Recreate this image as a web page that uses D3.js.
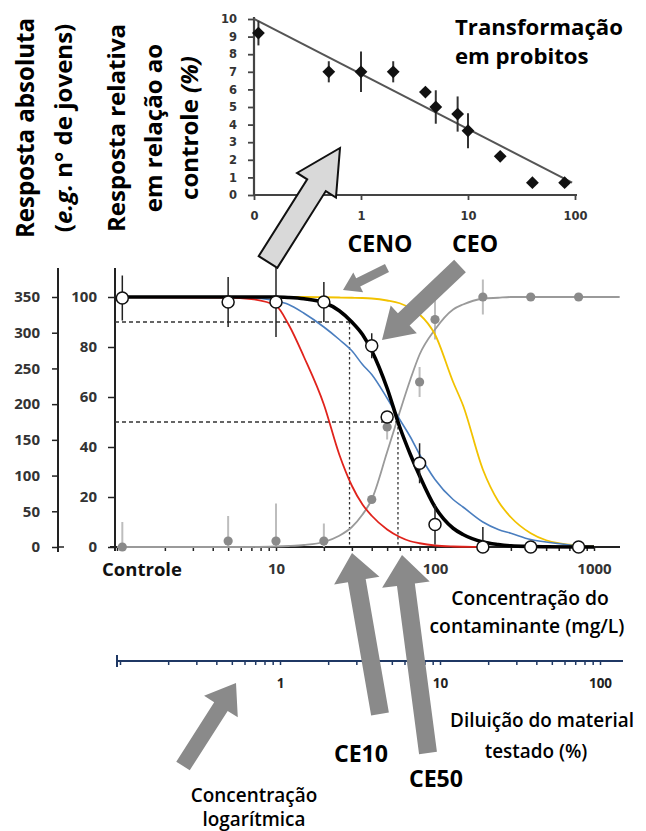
<!DOCTYPE html>
<html>
<head>
<meta charset="utf-8">
<script src="https://cdn.jsdelivr.net/npm/d3@7"></script>
<style>
  body { margin: 0; background: #fff; }
  svg { display: block; font-family: "Open Sans", sans-serif; }
</style>
</head>
<body>
<div id="chart"></div>
<script>
// ---- data ----
// main dose-response points (control plotted just right of the axis origin)
var concentrations = [1.08, 5, 10, 20, 40, 50, 80, 100, 200, 400, 800];
var responsePct    = [99.6, 98, 98, 98, 80.5, 52, 33.5, 9, 0, 0, 0];
var responseErr    = [9, 10, 14, 8, 5, 2, 8, 8, 8, 0, 0];
var inversePct     = [0, 2.4, 2.4, 2.4, 19, 48, 66, 91, 100, 100, 100];
var inverseErr     = [10, 10, 15, 7, 0, 5, 6, 8, 7, 0, 0];

// fitted curves, read at these concentrations
var curveConc   = [1, 5, 7, 10, 12, 15, 20, 25, 30, 35, 40, 50, 60, 70, 80, 100, 130, 150, 200, 250, 300, 400, 500, 800, 1000, 1450];
var blackCurve  = [100, 100, 100, 100, 99.8, 99.3, 97.8, 94.5, 90, 85, 78.5, 63.5, 48, 37, 28.5, 16, 7.5, 5, 2, 1, 0.5, 0.2, 0.1, 0, 0, null];
var blueCurve   = [100, 100, 99.7, 98.5, 97, 93.5, 88, 83, 78.5, 73, 69, 59.5, 51, 44, 37, 27, 19, 16, 10, 7, 5.5, 3, 2, 0.5, 0.2, null];
var redCurve    = [100, 99.8, 99.2, 96.5, 89, 76, 57, 37, 24.5, 17, 12.5, 7, 4, 2.3, 1.5, 0.6, 0.2, 0.1, 0, null, null, null, null, null, null, null];
var yellowCurve = [100, 100, 100, 100, 100, 100, 99.9, 99.8, 99.7, 99.6, 99.4, 98.6, 97.5, 95.5, 93, 85, 66, 56.7, 31, 18.3, 11.9, 5.5, 2.7, 0.6, 0.2, null];
var grayCurve   = [0, 0, 0, 0.2, 0.4, 0.8, 2, 4.5, 8, 13, 19, 38, 54, 67, 77, 87, 95, 97, 99.3, 99.7, 100, 100, 100, 100, 100, 100];

var ecConc   = [29, 58.5];   // CE10, CE50
var ecLevels = [90, 50];

var pctTicks    = [0, 20, 40, 60, 80, 100];
var absTicks    = [0, 50, 100, 150, 200, 250, 300, 350];
var concTicks   = [10, 100, 1000];
var dilutTicks  = [1, 10, 100];

// probit inset
var probitConc     = [0.11, 0.5, 1, 2, 4, 5, 8, 10, 20, 40, 80];
var probitValue    = [9.2, 7.0, 7.0, 7.0, 5.85, 5.0, 4.6, 3.65, 2.2, 0.7, 0.7];
var probitErr      = [0.7, 0.6, 1.15, 0.6, 0, 0.95, 1.0, 1.0, 0, 0, 0];
var probitFitConc  = [0.1, 94];
var probitFitValue = [10, 0.7];
var probitYTicks   = [0, 1, 2, 3, 4, 5, 6, 7, 8, 9, 10];
var probitXTicks   = [0.1, 1, 10, 100];
var probitXLabels  = ["0", "1", "10", "100"];

var width = 646, height = 831;
var svg = d3.select("#chart").append("svg")
    .attr("width", width)
    .attr("height", height);

function fitWidth(sel, target) {
    var fs = parseFloat(sel.attr("font-size"));
    var w = sel.node().getComputedTextLength();
    sel.attr("font-size", (fs * target / w).toFixed(2));
    return fs * target / w;
}

function arrowPath(x0, y0, x1, y1, sw, hw, hl) {
    var dx = x1 - x0, dy = y1 - y0, L = Math.hypot(dx, dy);
    var ux = dx / L, uy = dy / L, px = -uy, py = ux;
    var bx = x1 - ux * hl, by = y1 - uy * hl;
    var pts = [[x0 + px * sw, y0 + py * sw], [bx + px * sw, by + py * sw], [bx + px * hw, by + py * hw],
               [x1, y1], [bx - px * hw, by - py * hw], [bx - px * sw, by - py * sw], [x0 - px * sw, y0 - py * sw]];
    return d3.line()(pts) + "Z";
}

// ================= probit inset =================
var px = d3.scaleLog().domain([0.1, 100]).range([254, 575]);
var py = d3.scaleLinear().domain([0, 10]).range([195, 19]);
var inset = svg.append("g");

var iy = inset.append("g").attr("transform", "translate(254,0)")
    .call(d3.axisLeft(py).tickValues(probitYTicks).tickSize(6).tickPadding(11));
var ix = inset.append("g").attr("transform", "translate(0,195)")
    .call(d3.axisBottom(px).tickValues(probitXTicks).tickSize(5).tickPadding(12)
        .tickFormat(function(d, i) { return probitXLabels[i]; }));
[iy, ix].forEach(function(g) {
    g.select(".domain").remove();
    g.selectAll("line").attr("stroke", "#444").attr("stroke-width", 1.8);
    g.selectAll("text").attr("font-family", "DejaVu Sans").attr("font-weight", "bold")
        .attr("font-size", 11.5).attr("fill", "#333");
});
inset.append("line").attr("x1", 254).attr("x2", 254).attr("y1", 17).attr("y2", 196)
    .attr("stroke", "#444").attr("stroke-width", 2.2);
inset.append("line").attr("x1", 253).attr("x2", 577).attr("y1", 195).attr("y2", 195)
    .attr("stroke", "#444").attr("stroke-width", 2.2);

inset.append("path")
    .datum(probitFitConc.map(function(c, i) { return [c, probitFitValue[i]]; }))
    .attr("d", d3.line().x(function(d) { return px(d[0]); }).y(function(d) { return py(d[1]); }))
    .attr("stroke", "#555").attr("stroke-width", 2).attr("fill", "none");

var probitPts = probitConc.map(function(c, i) { return {c: c, v: probitValue[i], e: probitErr[i]}; });
inset.selectAll(".perr").data(probitPts.filter(function(d) { return d.e > 0; })).join("line")
    .attr("x1", function(d) { return px(d.c); }).attr("x2", function(d) { return px(d.c); })
    .attr("y1", function(d) { return py(d.v + d.e); }).attr("y2", function(d) { return py(d.v - d.e); })
    .attr("stroke", "#333").attr("stroke-width", 2);
inset.selectAll(".pdot").data(probitPts).join("path")
    .attr("d", d3.symbol(d3.symbolSquare, 82))
    .attr("transform", function(d) { return "translate(" + px(d.c) + "," + py(d.v) + ") rotate(45)"; })
    .attr("fill", "#111");

// ================= main chart =================
var x = d3.scaleLog().domain([1, 1000]).range([117, 594]);
var y = d3.scaleLinear().domain([0, 100]).range([547, 297]);
var yAbs = d3.scaleLinear().domain([0, 350]).range([547, 297]);
var main = svg.append("g");

var gPct = main.append("g").attr("transform", "translate(115,0)")
    .call(d3.axisLeft(y).tickValues(pctTicks).tickSize(7).tickPadding(11));
var gAbs = main.append("g").attr("transform", "translate(58,0)")
    .call(d3.axisLeft(yAbs).tickValues(absTicks).tickSize(6).tickPadding(12));
var gX = main.append("g").attr("transform", "translate(0,547)")
    .call(d3.axisBottom(x).tickValues(x.ticks()).tickSize(4).tickPadding(12)
        .tickFormat(function(d) { return concTicks.indexOf(d) >= 0 ? d : ""; }));
[gPct, gAbs, gX].forEach(function(g) {
    g.select(".domain").remove();
    g.selectAll("line").attr("stroke", "#222").attr("stroke-width", 1.5);
    g.selectAll("text").attr("font-family", "Open Sans").attr("font-weight", 700)
        .attr("font-size", 15).attr("fill", "#333");
});
main.append("line").attr("x1", 58).attr("x2", 58).attr("y1", 268).attr("y2", 552)
    .attr("stroke", "#222").attr("stroke-width", 2);
main.append("line").attr("x1", 58).attr("x2", 64).attr("y1", 547).attr("y2", 547)
    .attr("stroke", "#222").attr("stroke-width", 1.5);
main.append("line").attr("x1", 115).attr("x2", 115).attr("y1", 268).attr("y2", 551)
    .attr("stroke", "#222").attr("stroke-width", 2);
main.append("line").attr("x1", 110).attr("x2", 620).attr("y1", 547).attr("y2", 547)
    .attr("stroke", "#222").attr("stroke-width", 2);
var ctl = main.append("text").attr("x", 102).attr("y", 576).attr("font-size", 16).attr("font-weight", 700)
    .attr("fill", "#111").text("Controle");
fitWidth(ctl, 80);

// CE10 / CE50 guide lines
ecConc.forEach(function(c, i) {
    main.append("line").attr("x1", 115).attr("x2", x(c)).attr("y1", y(ecLevels[i])).attr("y2", y(ecLevels[i]))
        .attr("stroke", "#333").attr("stroke-width", 1.3).attr("stroke-dasharray", "4,3");
    main.append("line").attr("x1", x(c)).attr("x2", x(c)).attr("y1", y(ecLevels[i])).attr("y2", y(0))
        .attr("stroke", "#333").attr("stroke-width", 1.3).attr("stroke-dasharray", "2.5,2.5");
});

var pts = concentrations.map(function(c, i) {
    return {c: c, r: responsePct[i], re: responseErr[i], g: inversePct[i], ge: inverseErr[i]};
});

// gray error bars
main.selectAll(".gerr").data(pts.filter(function(d) { return d.ge > 0; })).join("line")
    .attr("x1", function(d) { return x(d.c); }).attr("x2", function(d) { return x(d.c); })
    .attr("y1", function(d) { return y(d.g + d.ge); })
    .attr("y2", function(d) { return y(Math.max(0, d.g - d.ge)); })
    .attr("stroke", "#bdbdbd").attr("stroke-width", 2);

var curveLine = d3.line()
    .defined(function(d) { return d[1] !== null; })
    .x(function(d) { return x(d[0]); })
    .y(function(d) { return y(d[1]); })
    .curve(d3.curveMonotoneX);
var curves = [
    {v: grayCurve, color: "#9a9a9a", w: 1.8},
    {v: yellowCurve, color: "#f2c200", w: 1.8},
    {v: blueCurve, color: "#4a7ebf", w: 1.6},
    {v: redCurve, color: "#e0231c", w: 1.8},
    {v: blackCurve, color: "#000", w: 3.6}
];
curves.forEach(function(cv) {
    main.append("path")
        .datum(curveConc.map(function(c, i) { return [c, cv.v[i]]; }))
        .attr("d", curveLine)
        .attr("fill", "none").attr("stroke", cv.color).attr("stroke-width", cv.w);
});

// black error bars
main.selectAll(".berr").data(pts.filter(function(d) { return d.re > 0; })).join("line")
    .attr("x1", function(d) { return x(d.c); }).attr("x2", function(d) { return x(d.c); })
    .attr("y1", function(d) { return y(d.r + d.re); })
    .attr("y2", function(d) { return y(Math.max(0, d.r - d.re)); })
    .attr("stroke", "#222").attr("stroke-width", 1.5);

main.selectAll(".gdot").data(pts).join("circle")
    .attr("cx", function(d) { return x(d.c); }).attr("cy", function(d) { return y(d.g); })
    .attr("r", 4.6).attr("fill", "#8a8a8a");
main.selectAll(".bdot").data(pts).join("circle")
    .attr("cx", function(d) { return x(d.c); }).attr("cy", function(d) { return y(d.r); })
    .attr("r", 6).attr("fill", "#fff").attr("stroke", "#111").attr("stroke-width", 1.5);

// ================= dilution axis =================
var xd = d3.scaleLog().domain([0.1, 100]).range([120, 600]);
var gD = svg.append("g").attr("transform", "translate(0,661)")
    .call(d3.axisBottom(xd).tickValues(xd.ticks()).tickSize(4).tickPadding(13)
        .tickFormat(function(d) { return dilutTicks.indexOf(d) >= 0 ? d : ""; }));
gD.select(".domain").remove();
gD.selectAll("line").attr("stroke", "#1f3864").attr("stroke-width", 1.5);
gD.selectAll("text").attr("font-family", "Open Sans").attr("font-weight", 700)
    .attr("font-size", 13.5).attr("fill", "#222");
svg.append("line").attr("x1", 117).attr("x2", 623).attr("y1", 661).attr("y2", 661)
    .attr("stroke", "#1f3864").attr("stroke-width", 2);
svg.append("line").attr("x1", 117).attr("x2", 117).attr("y1", 655).attr("y2", 667)
    .attr("stroke", "#1f3864").attr("stroke-width", 2);

// ================= arrows =================
var arrows = [
    {t: [268, 262], h: [340, 148], sw: 11, hw: 23, hl: 44, fill: "#d9d9d9", stroke: "#111"},
    {t: [387, 268], h: [343, 290], sw: 4.5, hw: 11, hl: 17, fill: "#8a8a8a"},
    {t: [460, 266], h: [382, 340], sw: 8.5, hw: 19, hl: 30, fill: "#8a8a8a"},
    {t: [380, 714], h: [352, 553], sw: 9, hw: 23, hl: 28, fill: "#8a8a8a"},
    {t: [428, 753], h: [402, 555], sw: 9, hw: 24, hl: 30, fill: "#8a8a8a"},
    {t: [183, 766], h: [236, 683], sw: 8, hw: 20, hl: 28, fill: "#8a8a8a"}
];
arrows.forEach(function(a) {
    svg.append("path")
        .attr("d", arrowPath(a.t[0], a.t[1], a.h[0], a.h[1], a.sw, a.hw, a.hl))
        .attr("fill", a.fill)
        .attr("stroke", a.stroke || "none").attr("stroke-width", 2).attr("stroke-linejoin", "miter");
});

// ================= texts =================
var lab = svg.append("g").attr("fill", "#000");

function vText(xb, parts) {
    var t = lab.append("text").attr("transform", "translate(" + xb + ",128) rotate(-90)")
        .attr("text-anchor", "middle").attr("font-weight", 700).attr("font-size", 22);
    parts.forEach(function(p) {
        t.append("tspan").attr("font-style", p[1] ? "italic" : null).text(p[0]);
    });
    return t;
}
var v1 = vText(34, [["Resposta absoluta"]]);
var vs = fitWidth(v1, 220);
vText(72, [["("], ["e.g.", true], [" n° de jovens)"]]).attr("font-size", vs);
vText(125, [["Resposta relativa"]]).attr("font-size", vs);
vText(162, [["em relação ao"]]).attr("font-size", vs);
vText(198, [["controle "], ["(%)", true]]).attr("font-size", vs);

var t1 = lab.append("text").attr("x", 455).attr("y", 35).attr("font-weight", 700).attr("font-size", 22)
    .text("Transformação");
var ts = fitWidth(t1, 168);
lab.append("text").attr("x", 455).attr("y", 64).attr("font-weight", 700).attr("font-size", ts)
    .text("em probitos");

var ceno = lab.append("text").attr("x", 380).attr("y", 252).attr("text-anchor", "middle")
    .attr("font-weight", 700).attr("font-size", 22).text("CENO");
var cs = fitWidth(ceno, 65);
lab.append("text").attr("x", 475).attr("y", 252).attr("text-anchor", "middle")
    .attr("font-weight", 700).attr("font-size", cs).text("CEO");
lab.append("text").attr("x", 361).attr("y", 762).attr("text-anchor", "middle")
    .attr("font-weight", 700).attr("font-size", cs).text("CE10");
lab.append("text").attr("x", 436).attr("y", 787).attr("text-anchor", "middle")
    .attr("font-weight", 700).attr("font-size", cs).text("CE50");

var c2 = lab.append("text").attr("x", 527).attr("y", 633).attr("text-anchor", "middle")
    .attr("font-weight", 600).attr("font-size", 18).text("contaminante (mg/L)");
var c2s = fitWidth(c2, 195);
lab.append("text").attr("x", 530).attr("y", 605).attr("text-anchor", "middle")
    .attr("font-weight", 600).attr("font-size", c2s).text("Concentração do");

var d1 = lab.append("text").attr("x", 542).attr("y", 727).attr("text-anchor", "middle")
    .attr("font-weight", 600).attr("font-size", 18).text("Diluição do material");
var ds = fitWidth(d1, 184);
lab.append("text").attr("x", 536).attr("y", 758).attr("text-anchor", "middle")
    .attr("font-weight", 600).attr("font-size", ds).text("testado (%)");

lab.append("text").attr("x", 254).attr("y", 802).attr("text-anchor", "middle")
    .attr("font-weight", 600).attr("font-size", ds).text("Concentração");
lab.append("text").attr("x", 254).attr("y", 826).attr("text-anchor", "middle")
    .attr("font-weight", 600).attr("font-size", ds).text("logarítmica");
</script>
</body>
</html>
